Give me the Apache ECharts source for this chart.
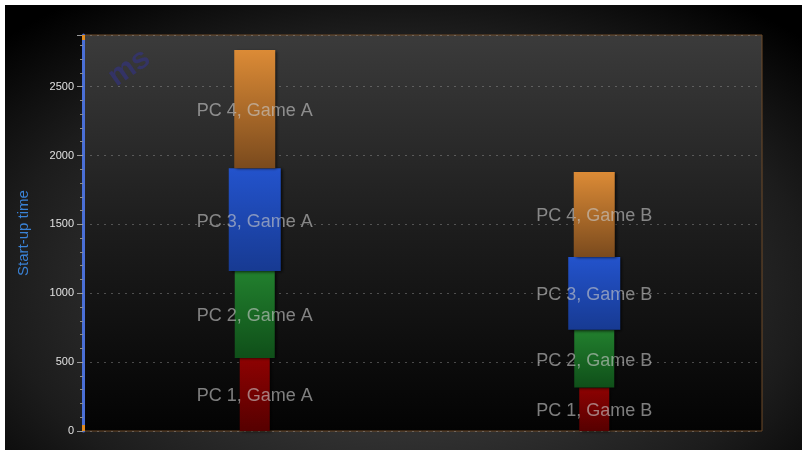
<!DOCTYPE html>
<html>
<head>
<meta charset="utf-8">
<script src="https://cdn.jsdelivr.net/npm/echarts@6/dist/echarts.min.js"></script>
<style>
  html, body { margin: 0; padding: 0; background: #ffffff; }
  #chart {
    position: absolute; left: 5px; top: 5px; width: 797px; height: 445px;
    background: radial-gradient(ellipse 70% 78% at 50% 62%, #3a3a3a 0%, #303030 45%, #1c1c1c 72%, #000000 100%);
  }
</style>
</head>
<body>
<div id="chart"></div>
<script>
// Start-up time per PC, stacked per game
const games = ['Game A', 'Game B'];
const pcNames = ['PC 1', 'PC 2', 'PC 3', 'PC 4'];
const pc1 = [530, 315];
const pc2 = [632, 420];
const pc3 = [745, 528];
const pc4 = [860, 618];
const yTicks = { min: 0, max: 2875, interval: 500 };

// Segment look per PC
const barWidths = [30, 40, 52, 41];
const barShift = 2;
const barColors = [
  ['#8e0202', '#560000'],
  ['#22802e', '#0f4f19'],
  ['#2353cc', '#173a92'],
  ['#dc8b36', '#7a4a1d']
];

const values = [pc1, pc2, pc3, pc4];
// Cumulative bottoms of each stacked segment
const bases = values.map((_, i) =>
  games.map((g, gi) => values.slice(0, i).reduce((s, arr) => s + arr[gi], 0)));

function makeSeries(pi) {
  return {
    type: 'custom',
    name: pcNames[pi],
    encode: { x: 0, y: [1, 2] },
    data: games.map((g, gi) => [gi, bases[pi][gi], bases[pi][gi] + values[pi][gi]]),
    renderItem(params, api) {
      const gi = api.value(0);
      const lo = api.coord([gi, api.value(1)]);
      const hi = api.coord([gi, api.value(2)]);
      const w = barWidths[pi];
      return {
        type: 'rect',
        shape: { x: lo[0] - w / 2 + barShift, y: hi[1], width: w, height: lo[1] - hi[1] },
        style: {
          fill: new echarts.graphic.LinearGradient(0, 0, 0, 1, [
            { offset: 0, color: barColors[pi][0] },
            { offset: 1, color: barColors[pi][1] }
          ]),
          shadowColor: 'rgba(0,0,0,0.75)',
          shadowBlur: 3,
          shadowOffsetX: 2,
          shadowOffsetY: 1
        },
        textContent: {
          z2: 100,
          style: {
            text: pcNames[pi] + ', ' + games[gi],
            fill: 'rgba(200,200,200,0.62)',
            font: '18px "Liberation Sans", Arial, sans-serif'
          }
        },
        textConfig: { position: 'inside', offset: [0, 2] }
      };
    }
  };
}

const chart = echarts.init(document.getElementById('chart'), null, { renderer: 'canvas' });
chart.setOption({
  backgroundColor: 'transparent',
  animation: false,
  grid: {
    left: 78, top: 30, right: 40, bottom: 19,
    show: true,
    borderColor: '#6e4a28',
    borderWidth: 1,
    backgroundColor: new echarts.graphic.LinearGradient(0, 0, 0, 1, [
      { offset: 0, color: '#3b3b3b' },
      { offset: 0.5, color: '#1c1c1c' },
      { offset: 1, color: '#030303' }
    ])
  },
  xAxis: {
    type: 'category',
    data: games,
    axisLine: { show: false },
    axisTick: { show: false },
    axisLabel: { show: false },
    splitLine: { show: false }
  },
  yAxis: {
    type: 'value',
    min: yTicks.min, max: yTicks.max, interval: yTicks.interval,
    name: 'Start-up time',
    nameLocation: 'middle',
    nameGap: 52,
    nameTextStyle: { color: '#3a82d6', fontSize: 15, fontFamily: '"Liberation Sans", Arial, sans-serif' },
    axisLine: { show: true, lineStyle: { color: '#4a6fd6', width: 3 } },
    axisTick: { show: true, length: 6, lineStyle: { color: '#9a9a9a' } },
    minorTick: { show: true, splitNumber: 5, length: 3, lineStyle: { color: '#8a8a8a' } },
    axisLabel: {
      color: '#e0e0e0', fontSize: 11, margin: 9, showMaxLabel: false,
      fontFamily: '"Liberation Sans", Arial, sans-serif',
      formatter: (v) => String(v)
    },
    splitLine: { show: true, lineStyle: { color: 'rgba(150,150,150,0.45)', type: [2, 5], width: 1 } }
  },
  series: [0, 1, 2, 3].map(makeSeries)
});

// Watermark and orange caps at both ends of the value axis line
const topPx = chart.convertToPixel({ yAxisIndex: 0 }, yTicks.max);
const botPx = chart.convertToPixel({ yAxisIndex: 0 }, yTicks.min);
chart.setOption({
  graphic: [
    { type: 'text', left: 98, top: 38, rotation: 35 * Math.PI / 180,
      style: { text: 'ms', fill: 'rgba(50,50,150,0.5)', font: 'bold 30px "Liberation Sans", Arial, sans-serif' }, z: 1 },
    { type: 'rect', shape: { x: 77, y: topPx, width: 3, height: 5 }, style: { fill: '#e08a20' }, z: 10 },
    { type: 'rect', shape: { x: 77, y: botPx - 6, width: 3, height: 6 }, style: { fill: '#e08a20' }, z: 10 }
  ]
});
</script>
</body>
</html>
